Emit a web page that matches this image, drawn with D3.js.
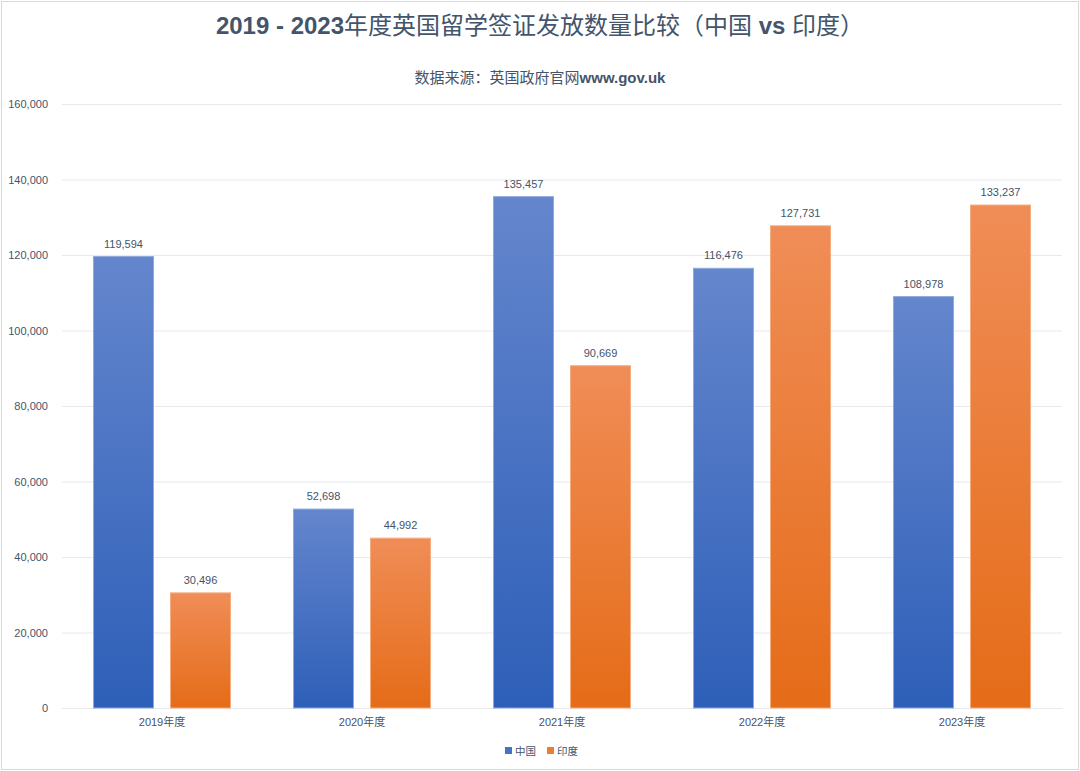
<!DOCTYPE html>
<html><head><meta charset="utf-8">
<script src="https://cdn.jsdelivr.net/npm/d3@7"></script>
<style>body{margin:0;background:#fff;}svg{display:block;}</style>
</head><body>
<script>
const categories = ["2019年度","2020年度","2021年度","2022年度","2023年度"];
const seriesNames = ["中国","印度"];
const china = [119594, 52698, 135457, 116476, 108978];
const india = [30496, 44992, 90669, 127731, 133237];
const yTicks = [0,20000,40000,60000,80000,100000,120000,140000,160000];

const W=1080,H=771;
const svg=d3.select("body").append("svg").attr("width",W).attr("height",H)
  .style("font-family","'Liberation Sans', 'Noto Sans CJK SC', sans-serif");
svg.append("rect").attr("x",1.5).attr("y",1.5).attr("width",W-3).attr("height",H-3)
  .attr("fill","#fff").attr("stroke","#d9d9d9");

const defs=svg.append("defs");
function grad(id,top,bot){const g=defs.append("linearGradient").attr("id",id).attr("x1",0).attr("y1",0).attr("x2",0).attr("y2",1);
 g.append("stop").attr("offset","0%").attr("stop-color",top);g.append("stop").attr("offset","100%").attr("stop-color",bot);}
grad("gBlue","#6486cd","#2e5fb8");
grad("gOrange","#f08d57","#e56c18");
const fills=["url(#gBlue)","url(#gOrange)"];
const strokes=["#8ea9dc","#f5ad80"];
const legendColors=["#4472c4","#ed7d31"];

const x0=d3.scaleBand().domain(categories).range([62,1062]);
const x1=d3.scaleBand().domain(seriesNames).range([31,169]).paddingInner(16/77).paddingOuter(0);
const y=d3.scaleLinear().domain([0,160000]).range([708,104]);

const fontLat="'Liberation Sans', Arial, 'Noto Sans CJK SC', sans-serif";
const textColor="#44546a";

// grid
svg.append("g").selectAll("line").data(yTicks).join("line")
  .attr("x1",62).attr("x2",1062).attr("y1",d=>y(d)+0.5).attr("y2",d=>y(d)+0.5)
  .attr("stroke","#e6e9ee").attr("stroke-width",1);

// y axis
const yAxis=d3.axisLeft(y).tickValues(yTicks).tickFormat(d3.format(",")).tickSize(0).tickPadding(14);
const ya=svg.append("g").attr("transform","translate(62,0)").call(yAxis);
ya.select(".domain").remove();
ya.selectAll("text").attr("fill",textColor).style("font-size","11px").style("font-family","'Liberation Sans', sans-serif");

// x axis
const xAxis=d3.axisBottom(x0).tickSize(0).tickPadding(10);
const xa=svg.append("g").attr("transform","translate(0,708)").call(xAxis);
xa.select(".domain").attr("stroke","#e6e9ee");
xa.selectAll("text").attr("fill",textColor).style("font-size","11px").style("font-family","'Liberation Sans', 'Noto Sans CJK SC', sans-serif");

const data=categories.map((c,i)=>({cat:c,vals:[{s:0,v:china[i]},{s:1,v:india[i]}]}));
const g=svg.append("g").selectAll("g").data(data).join("g").attr("transform",d=>`translate(${x0(d.cat)},0)`);
g.selectAll("rect").data(d=>d.vals).join("rect")
  .attr("x",d=>x1(seriesNames[d.s])+0.5).attr("width",x1.bandwidth()-1)
  .attr("y",d=>y(d.v)).attr("height",d=>y(0)-y(d.v))
  .attr("fill",d=>fills[d.s]).attr("stroke",d=>strokes[d.s]).attr("stroke-width",1);
g.selectAll("text").data(d=>d.vals).join("text")
  .attr("x",d=>x1(seriesNames[d.s])+x1.bandwidth()/2).attr("y",d=>y(d.v)-9)
  .attr("text-anchor","middle").attr("fill",textColor).style("font-size","11px")
  .style("font-family","'Liberation Sans', sans-serif")
  .text(d=>d3.format(",")(d.v));

// title
const title=svg.append("text").attr("x",540).attr("y",34).attr("text-anchor","middle")
  .attr("fill","#44546a").style("font-size","24px").style("font-family",fontLat);
title.append("tspan").attr("font-weight","bold").text("2019 - 2023");
title.append("tspan").text("年度英国留学签证发放数量比较（中国 ");
title.append("tspan").attr("font-weight","bold").text("vs");
title.append("tspan").text(" 印度）");

const sub=svg.append("text").attr("x",540).attr("y",83).attr("text-anchor","middle")
  .attr("fill","#44546a").style("font-size","15px").style("font-family",fontLat);
sub.append("tspan").text("数据来源：英国政府官网");
sub.append("tspan").attr("font-weight","bold").text("www.gov.uk");

// legend
const lg=svg.append("g").attr("transform","translate(505,750)");
seriesNames.forEach((n,i)=>{
  const gx=i*42;
  lg.append("rect").attr("x",gx).attr("y",-3).attr("width",7).attr("height",7).attr("fill",legendColors[i]);
  lg.append("text").attr("x",gx+10).attr("y",4.5).attr("fill",textColor).style("font-size","10.5px")
    .style("font-family","'Noto Sans CJK SC', sans-serif").text(n);
});
</script>
</body></html>
